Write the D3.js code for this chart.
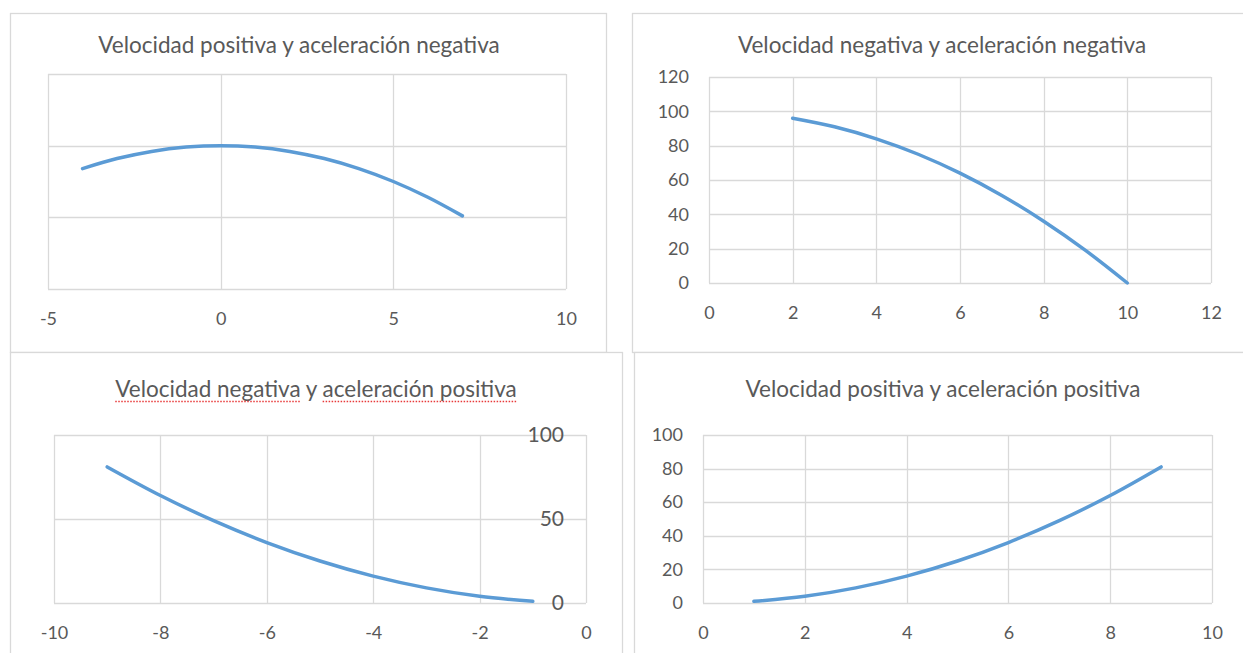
<!DOCTYPE html>
<html><head><meta charset="utf-8">
<script src="https://cdn.jsdelivr.net/npm/d3@7"></script>
<style>
body{margin:0;background:#fff}
svg text{font-family:Lato,"Open Sans",sans-serif;fill:#595959}
</style>
</head><body>
<svg id="c" width="1243" height="653"></svg>
<script>
// ---- data ----
const titles = [
  "Velocidad positiva y aceleración negativa",
  "Velocidad negativa y aceleración negativa",
  "Velocidad negativa y aceleración positiva",
  "Velocidad positiva y aceleración positiva"
];
const x1 = [-4,-3,-2,-1,0,1,2,3,4,5,6,7];
const y1 = [84,91,96,99,100,99,96,91,84,75,64,51];
const x2 = [2,3,4,5,6,7,8,9,10];
const y2 = [96,91,84,75,64,51,36,19,0];
const x3 = [-9,-8,-7,-6,-5,-4,-3,-2,-1];
const y3 = [81,64,49,36,25,16,9,4,1];
const x4 = [1,2,3,4,5,6,7,8,9];
const y4 = [1,4,9,16,25,36,49,64,81];
const xTicks1 = [-5,0,5,10],  yTicks1 = [0,50,100,150];
const xTicks2 = [0,2,4,6,8,10,12], yTicks2 = [0,20,40,60,80,100,120];
const xTicks3 = [-10,-8,-6,-4,-2,0], yTicks3 = [0,50,100];
const xTicks4 = [0,2,4,6,8,10], yTicks4 = [0,20,40,60,80,100];

// ---- layout ----
const panels = [
  {title:titles[0], xs:x1, ys:y1, xt:xTicks1, yt:yTicks1,
   frame:[10,13,596,339], plot:{l:48,r:566,t:74,b:289}, tx:299, ty:53, yLab:null},
  {title:titles[1], xs:x2, ys:y2, xt:xTicks2, yt:yTicks2,
   frame:[632,13,640,339], plot:{l:709,r:1211,t:77,b:283}, tx:942, ty:53, yLab:{side:"left",pad:20,size:18}},
  {title:titles[2], xs:x3, ys:y3, xt:xTicks3, yt:yTicks3,
   frame:[10,352,612,320], plot:{l:54,r:586,t:435,b:603}, tx:316, ty:397, yLab:{side:"right",pad:22,size:21}, squiggle:true},
  {title:titles[3], xs:x4, ys:y4, xt:xTicks4, yt:yTicks4,
   frame:[634,352,640,320], plot:{l:703,r:1212,t:435,b:603}, tx:943, ty:397, yLab:{side:"left",pad:20,size:18}}
];

const svg = d3.select("#c");
const grid = "#d9d9d9";
const px = v => Math.round(v) + 0.5;
const fmt = d => String(d);

panels.forEach(p => {
  const g = svg.append("g");
  const [fx,fy,fw,fh] = p.frame;
  g.append("rect").attr("x",fx+0.5).attr("y",fy+0.5).attr("width",fw).attr("height",fh)
    .attr("fill","#fff").attr("stroke",grid).attr("stroke-width",1.3);

  const x = d3.scaleLinear().domain(d3.extent(p.xt)).range([p.plot.l,p.plot.r]);
  const y = d3.scaleLinear().domain(d3.extent(p.yt)).range([p.plot.b,p.plot.t]);

  // gridlines
  g.append("g").selectAll("line").data(p.yt).join("line")
    .attr("x1",x.range()[0]).attr("x2",x.range()[1])
    .attr("y1",d=>px(y(d))).attr("y2",d=>px(y(d)))
    .attr("stroke",grid).attr("stroke-width",1.3);
  g.append("g").selectAll("line").data(p.xt).join("line")
    .attr("x1",d=>px(x(d))).attr("x2",d=>px(x(d)))
    .attr("y1",y.range()[0]).attr("y2",y.range()[1])
    .attr("stroke",grid).attr("stroke-width",1.3);

  // x axis labels
  const xa = g.append("g").attr("transform",`translate(0,${p.plot.b})`)
    .call(d3.axisBottom(x).tickValues(p.xt).tickSize(0).tickPadding(23).tickFormat(fmt));
  xa.select(".domain").remove();
  xa.selectAll("text").attr("font-size",18).style("font-family","Lato").attr("fill","#595959");

  // y axis labels
  if (p.yLab) {
    const ax = p.yLab.side === "left" ? p.plot.l : p.plot.r;
    const ya = g.append("g").attr("transform",`translate(${ax},0)`)
      .call(d3.axisLeft(y).tickValues(p.yt).tickSize(0).tickPadding(p.yLab.pad).tickFormat(fmt));
    ya.select(".domain").remove();
    ya.selectAll("text").attr("font-size",p.yLab.size).style("font-family","Lato").attr("fill","#595959");
  }

  // line
  const pts = p.xs.map((v,i)=>[v,p.ys[i]]);
  g.append("path").datum(pts)
    .attr("d", d3.line().x(d=>x(d[0])).y(d=>y(d[1])).curve(d3.curveCatmullRom.alpha(0.5)))
    .attr("fill","none").attr("stroke","#5b9bd5").attr("stroke-width",3.5).attr("stroke-linecap","round");

  // title
  const t = g.append("text").attr("x",p.tx).attr("y",p.ty).attr("text-anchor","middle")
    .attr("font-size",22.5).text(p.title);

  if (p.squiggle) {
    const node = t.node();
    const total = node.getComputedTextLength();
    const x0 = p.tx - total/2;
    const s = p.title;
    const segs = [[0, s.indexOf(" y ")], [s.indexOf("aceleración"), s.length]];
    segs.forEach(([a,b])=>{
      const start = x0 + (a>0 ? node.getSubStringLength(0,a) : 0);
      const end = x0 + node.getSubStringLength(0,b);
      g.append("line").attr("x1",start).attr("x2",end).attr("y1",p.ty+4.5).attr("y2",p.ty+4.5)
        .attr("stroke","#e83a3a").attr("stroke-width",1.3).attr("stroke-dasharray","1.5,1.5");
    });
  }
});
</script>
</body></html>
